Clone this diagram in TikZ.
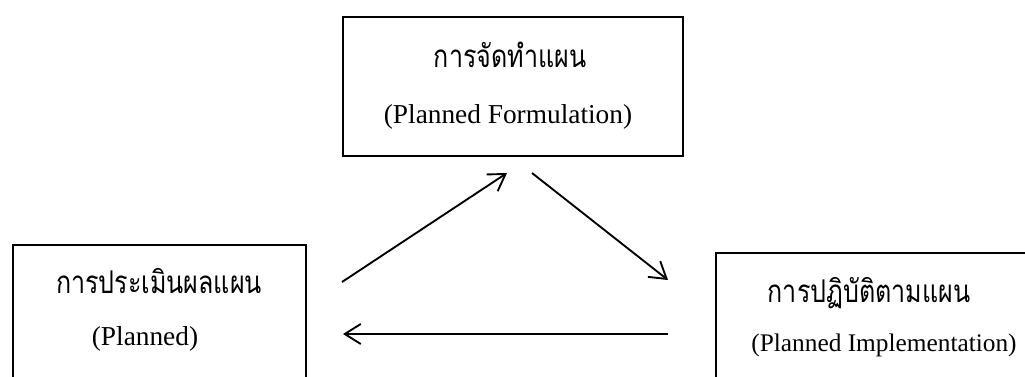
\documentclass[tikz,border=0pt]{standalone}
\usepackage{fontspec}
\setmainfont{Liberation Serif}
\newfontfamily\thaifont[Script=Thai,FakeStretch=0.8]{Loma}
\usetikzlibrary{arrows.meta}
\tikzset{
  box/.style={draw=black, line width=1.5pt, fill=white, inner sep=0pt},
  thtext/.style={font=\thaifont\fontsize{23.5pt}{26pt}\selectfont, anchor=base, inner sep=0pt},
  entext/.style={font=\fontsize{20.5pt}{24pt}\selectfont, anchor=base, inner sep=0pt},
  entextsmall/.style={font=\fontsize{19pt}{22pt}\selectfont, anchor=base, inner sep=0pt},
  flow/.style={line width=1.4pt, -{Straight Barb[length=12pt,width=15pt,line width=1.4pt]}}
}
\begin{document}
\begin{tikzpicture}[x=0.75pt,y=-0.75pt]
\useasboundingbox (0,0) rectangle (1025,376);
\clip (0,0) rectangle (1025,376);
% boxes
\node[box, minimum width=340*0.75pt, minimum height=139*0.75pt, anchor=north west] (top) at (342,16) {};
\node[box, minimum width=293*0.75pt, minimum height=160*0.75pt, anchor=north west] (left) at (12,244) {};
\node[box, minimum width=330*0.75pt, minimum height=160*0.75pt, anchor=north west] (right) at (715,252) {};
% texts
\node[thtext] (topth) at (510,67) {การจัดทำแผน};
\node[entext] (topen) at (508,123) {(Planned Formulation)};
\node[thtext] (leftth) at (159,293) {การประเมินผลแผน};
\node[entext] (leften) at (145,345) {(Planned)};
\node[thtext] (rightth) at (869,302) {การปฏิบัติตามแผน};
\node[entextsmall] (righten) at (884,351) {(Planned Implementation)};
% arrow ends
\coordinate (a1s) at (342,282);
\coordinate (a1e) at (507,173);
\coordinate (a2s) at (532,173);
\coordinate (a2e) at (668,280);
\coordinate (a3s) at (668,334);
\coordinate (a3e) at (343,334);
\draw[flow] (a1s) -- (a1e);
\draw[flow] (a2s) -- (a2e);
\draw[flow] (a3s) -- (a3e);
\end{tikzpicture}
\end{document}
